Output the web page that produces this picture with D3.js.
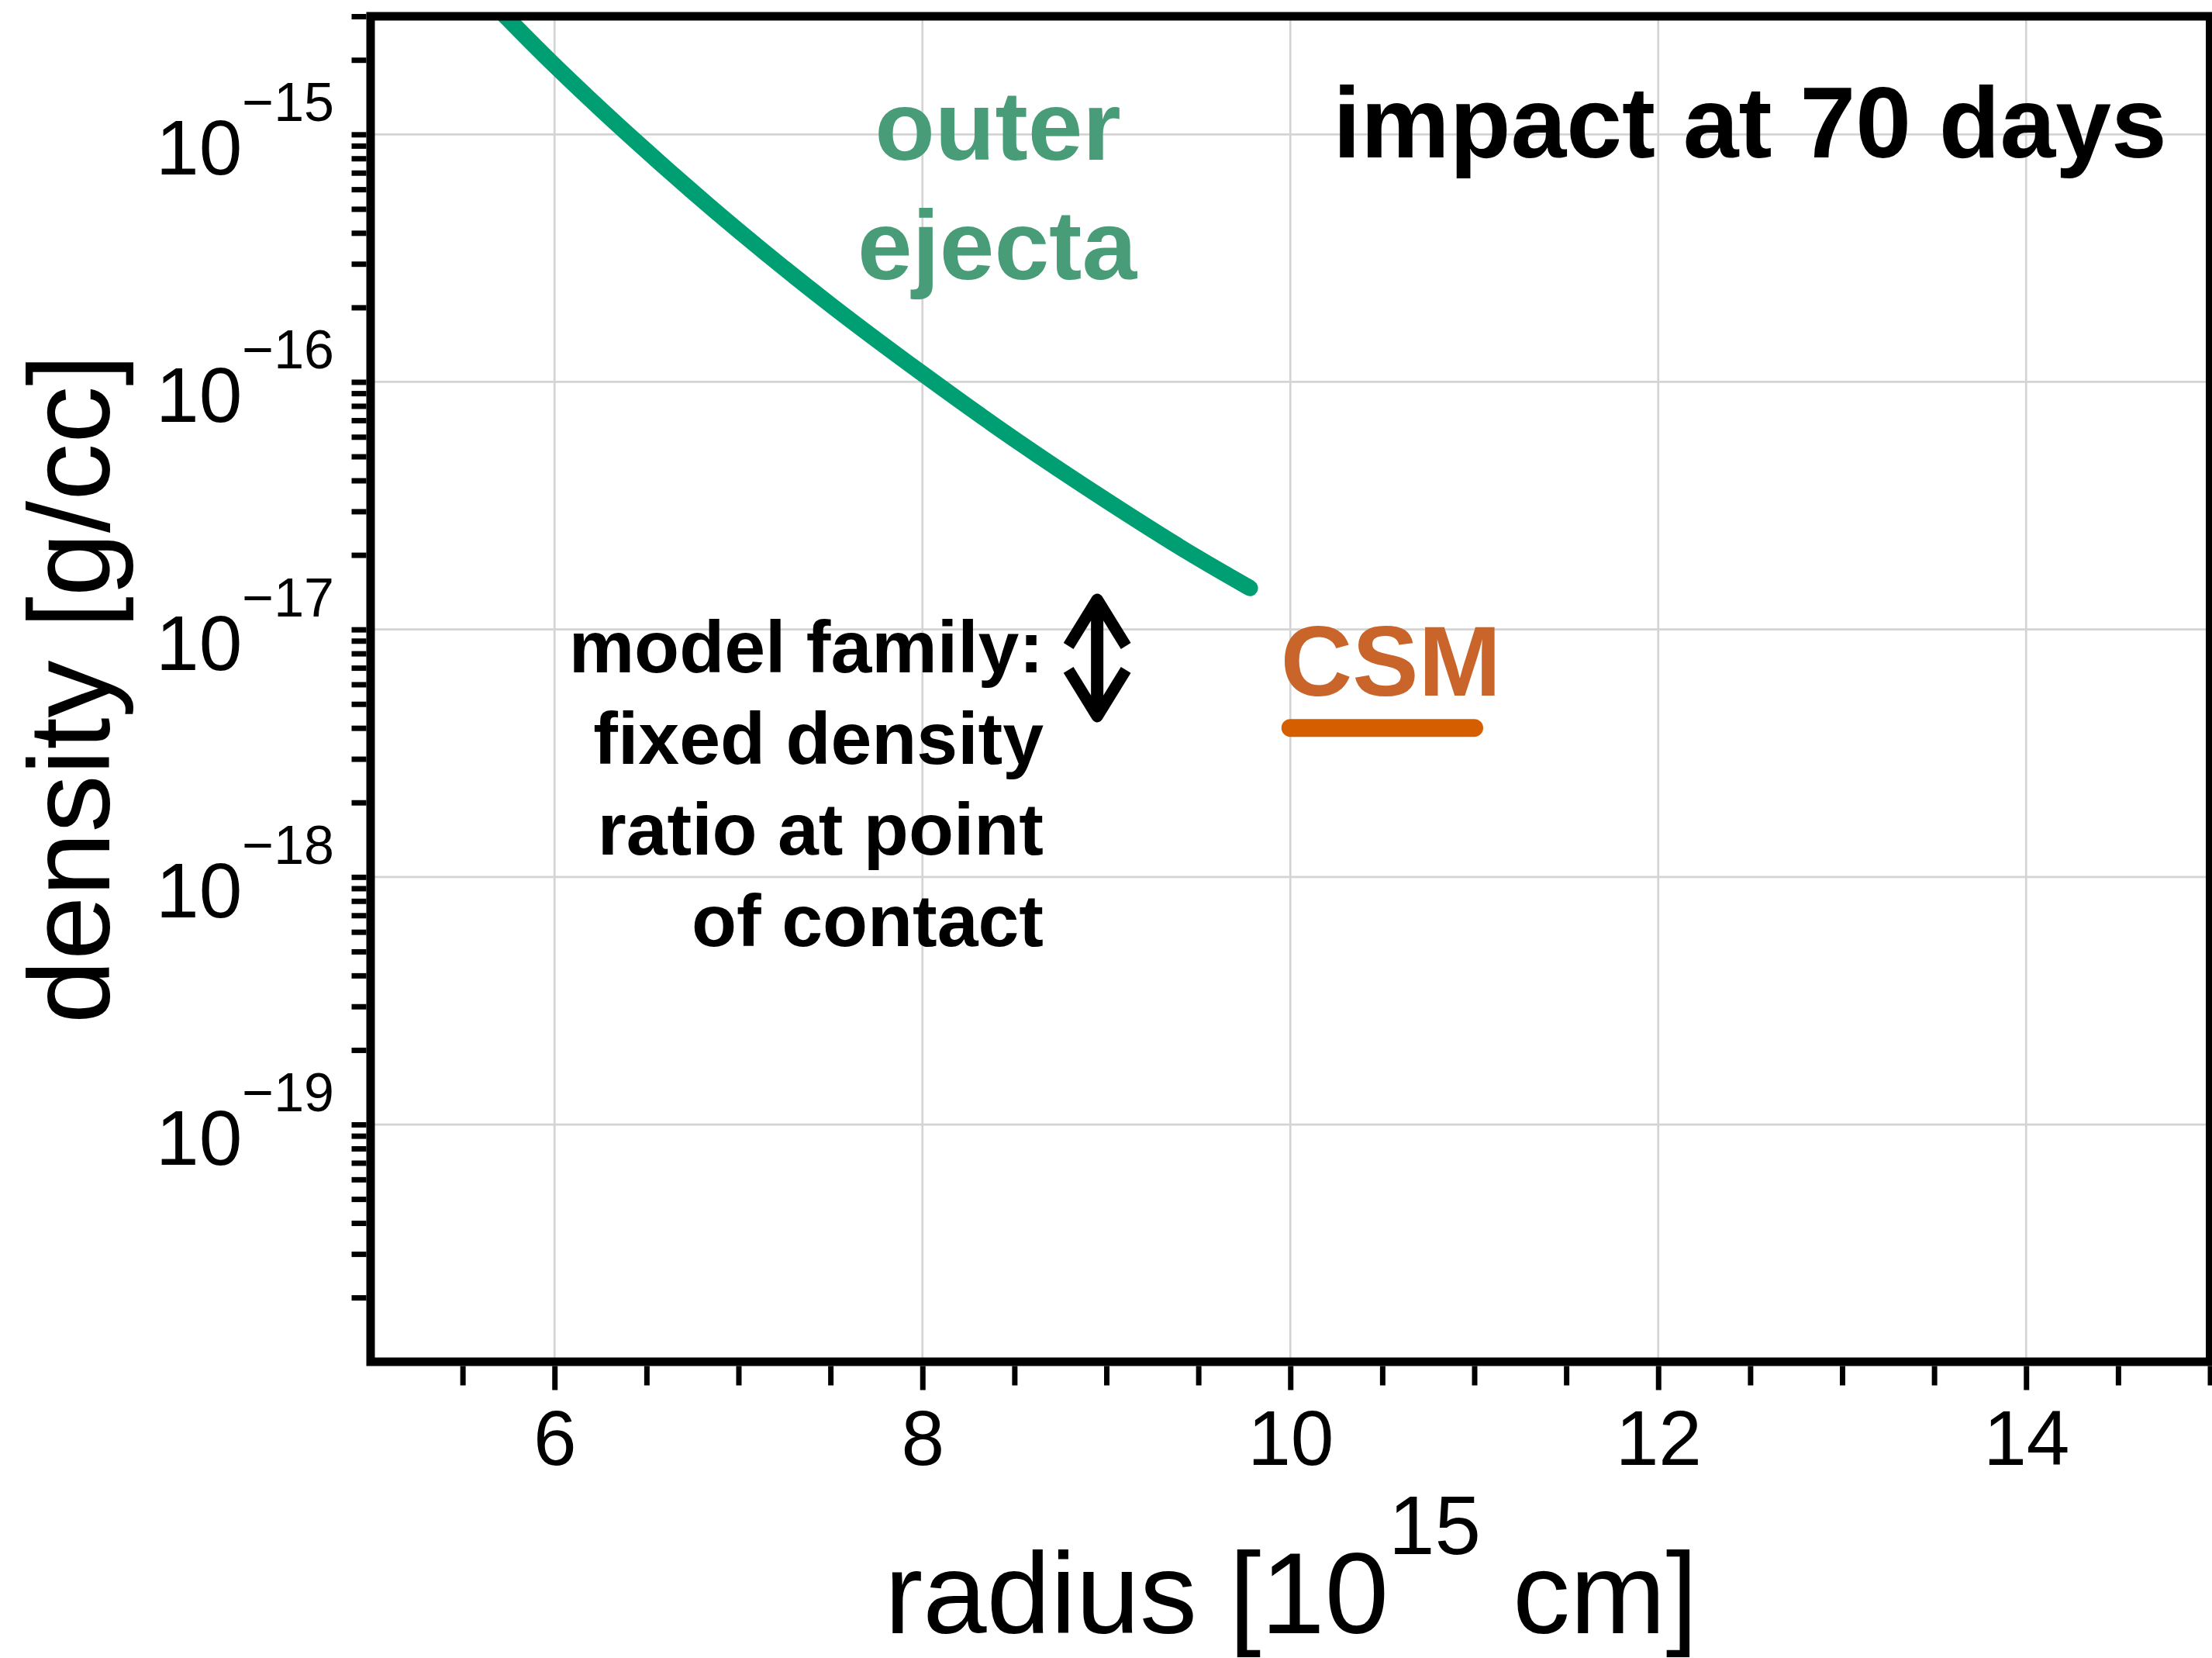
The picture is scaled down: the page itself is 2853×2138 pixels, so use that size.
<!DOCTYPE html>
<html><head><meta charset="utf-8">
<script src="https://cdn.jsdelivr.net/npm/d3@7"></script>
<style>
html,body{margin:0;padding:0;background:#fff;}
svg{display:block;}
text{font-family:"Liberation Sans",Arial,Helvetica,sans-serif;}
</style>
</head><body>
<svg id="chart" width="2853" height="2138"></svg>
<script>
// ---- data ----
const ejectaRadius  = [5.60, 6.00, 6.40, 7.00, 7.50, 8.00, 8.50, 9.00, 9.50, 9.78];
const ejectaDensity = [3.79e-15, 1.9e-15, 1.0e-15, 4.08e-16, 2.05e-16, 1.08e-16, 5.87e-17, 3.32e-17, 1.94e-17, 1.47e-17];
const csmRadius  = [10.0, 11.0];
const csmDensity = [4.0e-18, 4.0e-18];
const xMajorTicks = [6, 8, 10, 12, 14];
const xTickLabels = ["6", "8", "10", "12", "14"];
const xMinorTicks = [5.5, 6.5, 7, 7.5, 8.5, 9, 9.5, 10.5, 11, 11.5, 12.5, 13, 13.5, 14.5, 15];
const yMajorExponents = [-19, -18, -17, -16, -15];
const yTickLabels = ["10", "10", "10", "10", "10"];
const yTickSuperscripts = ["\u221219", "\u221218", "\u221217", "\u221216", "\u221215"];
const yMinorMantissas = [2, 3, 4, 5, 6, 7, 8, 9];
const yMinorExponents = [-21, -20, -19, -18, -17, -16, -15];
const xDomain = [5, 15];
const yDomain = [1.1e-20, 3e-15];
const arrowX = 8.95;
const arrowY = [1.4e-17, 4.2e-18];

// ---- layout ----
const W = 2853, H = 2138;
const m = {left: 478, right: 2850.5, top: 21, bottom: 1756};
const x = d3.scaleLinear().domain(xDomain).range([m.left, m.right]);
const y = d3.scaleLog().domain(yDomain).range([m.bottom, m.top]);

const svg = d3.select("#chart");
svg.append("rect").attr("width", W).attr("height", H).attr("fill", "#fff");

svg.append("defs").append("clipPath").attr("id", "plotclip")
  .append("rect").attr("x", m.left).attr("y", m.top)
  .attr("width", m.right - m.left).attr("height", m.bottom - m.top);

// grid
const grid = svg.append("g").attr("stroke", "#d4d4d4").attr("stroke-width", 2.7);
grid.selectAll("line.gx").data(xMajorTicks).join("line").attr("class", "gx")
  .attr("x1", d => x(d)).attr("x2", d => x(d)).attr("y1", m.top).attr("y2", m.bottom);
grid.selectAll("line.gy").data(yMajorExponents).join("line").attr("class", "gy")
  .attr("x1", m.left).attr("x2", m.right).attr("y1", d => y(Math.pow(10, d))).attr("y2", d => y(Math.pow(10, d)));

// x axis ticks
const spineW = 11;
const xAxisMajor = d3.axisBottom(x).tickValues(xMajorTicks).tickSize(31).tickSizeOuter(0).tickFormat((d, i) => xTickLabels[i]).tickPadding(26);
const xAxisMinor = d3.axisBottom(x).tickValues(xMinorTicks).tickSize(25).tickSizeOuter(0).tickFormat("");
const gxMin = svg.append("g").attr("transform", `translate(0,${m.bottom + spineW/2})`).call(xAxisMinor);
const gxMaj = svg.append("g").attr("transform", `translate(0,${m.bottom + spineW/2})`).call(xAxisMajor);
[gxMin, gxMaj].forEach(g => {
  g.select(".domain").remove();
  g.selectAll(".tick line").attr("stroke", "#000").attr("stroke-width", 7);
});
gxMaj.selectAll(".tick text").attr("font-size", 100).attr("fill", "#000").attr("dy", null).attr("y", 127);

// y axis ticks
const yMinorVals = [];
yMinorExponents.forEach(e => yMinorMantissas.forEach(mm => {
  const v = mm * Math.pow(10, e);
  if (v >= yDomain[0] && v <= yDomain[1] * 1.0001) yMinorVals.push(v);
}));
const yMajorVals = yMajorExponents.map(e => Math.pow(10, e));
const yAxis = d3.axisLeft(y).tickValues(yMajorVals.concat(yMinorVals)).tickSize(19).tickSizeOuter(0).tickFormat("");
const gy = svg.append("g").attr("transform", `translate(${m.left - spineW/2},0)`).call(yAxis);
gy.select(".domain").remove();
gy.selectAll(".tick line").attr("stroke", "#000").attr("stroke-width", 7);

// y tick labels (10^-n)
const ylab = svg.append("g");
yMajorExponents.forEach((e, i) => {
  const t = ylab.append("text").attr("x", 431).attr("y", y(Math.pow(10, e)) + 52)
    .attr("text-anchor", "end").attr("fill", "#000");
  t.append("tspan").attr("font-size", 100).text(yTickLabels[i]);
  t.append("tspan").attr("font-size", 70).attr("dy", -69).text(yTickSuperscripts[i]);
});

// data lines
const line = d3.line().x(d => x(d[0])).y(d => y(d[1])).curve(d3.curveMonotoneX);
svg.append("path").attr("clip-path", "url(#plotclip)")
  .datum(ejectaRadius.map((r, i) => [r, ejectaDensity[i]]))
  .attr("d", line).attr("fill", "none").attr("stroke", "#009e73")
  .attr("stroke-width", 21).attr("stroke-linecap", "round").attr("stroke-linejoin", "round");
svg.append("path")
  .datum(csmRadius.map((r, i) => [r, csmDensity[i]]))
  .attr("d", d3.line().x(d => x(d[0])).y(d => y(d[1]))).attr("fill", "none").attr("stroke", "#d55e00")
  .attr("stroke-width", 23).attr("stroke-linecap", "round");

// frame
svg.append("rect").attr("x", m.left).attr("y", m.top)
  .attr("width", m.right - m.left).attr("height", m.bottom - m.top)
  .attr("fill", "none").attr("stroke", "#000").attr("stroke-width", spineW);

// double arrow annotation
const ax = x(arrowX), aTop = y(arrowY[0]), aBot = y(arrowY[1]);
const headL = 60, headW = 37, inset = 8;
const ag = svg.append("g").attr("fill", "none").attr("stroke", "#000").attr("stroke-width", 15)
  .attr("stroke-linejoin", "round").attr("stroke-linecap", "butt");
ag.append("line").attr("x1", ax).attr("x2", ax).attr("y1", aTop + inset).attr("y2", aBot - inset).attr("stroke-width", 16);
ag.append("polyline").attr("points", `${ax - headW},${aTop + inset + headL} ${ax},${aTop + inset} ${ax + headW},${aTop + inset + headL}`);
ag.append("polyline").attr("points", `${ax - headW},${aBot - inset - headL} ${ax},${aBot - inset} ${ax + headW},${aBot - inset - headL}`);

// texts
svg.append("text").attr("x", 2257).attr("y", 203).attr("text-anchor", "middle")
  .attr("font-size", 129).attr("font-weight", "bold").attr("fill", "#000").text("impact at 70 days");
const green = svg.append("text").attr("text-anchor", "middle").attr("font-size", 127)
  .attr("font-weight", "bold").attr("fill", "#489c78");
green.append("tspan").attr("x", 1287).attr("y", 206).text("outer");
green.append("tspan").attr("x", 1286).attr("y", 360).text("ejecta");
svg.append("text").attr("x", 1794).attr("y", 897).attr("text-anchor", "middle")
  .attr("font-size", 128).attr("font-weight", "bold").attr("fill", "#c9652b").text("CSM");
const note = svg.append("text").attr("text-anchor", "end").attr("font-size", 95)
  .attr("font-weight", "bold").attr("fill", "#000");
["model family:", "fixed density", "ratio at point", "of contact"].forEach((s, i) => {
  note.append("tspan").attr("x", 1346).attr("y", 867 + i * 117.5).text(s);
});

// axis labels
const xl = svg.append("text").attr("x", 1141).attr("y", 2106).attr("fill", "#000");
xl.append("tspan").attr("font-size", 148).text("radius [10");
xl.append("tspan").attr("font-size", 107).attr("dy", -102).text("15");
xl.append("tspan").attr("font-size", 148).attr("dy", 102).text("\u00a0cm]");
svg.append("text").attr("transform", `translate(141,${(m.top + m.bottom) / 2}) rotate(-90)`)
  .attr("text-anchor", "middle").attr("font-size", 148).attr("fill", "#000").text("density [g/cc]");
</script>
</body></html>
